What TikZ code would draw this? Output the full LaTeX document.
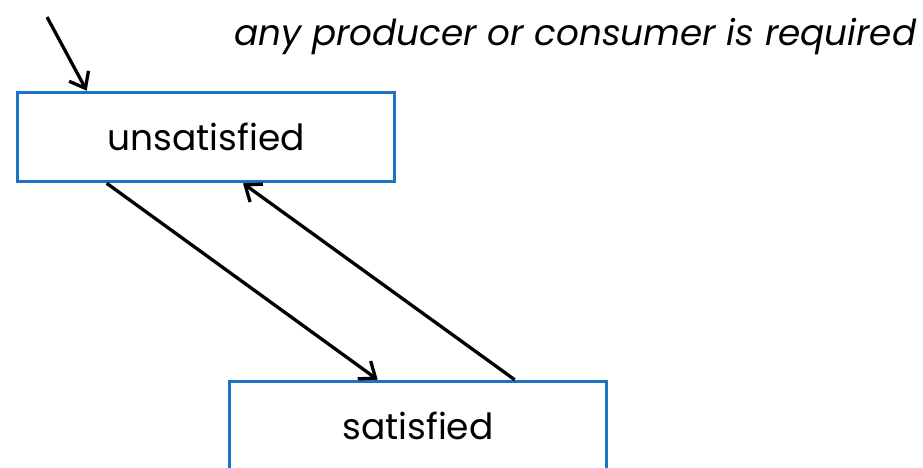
\documentclass[tikz,border=0pt]{standalone}
\usepackage{fontspec}
\setmainfont{Poppins}
\usetikzlibrary{arrows.meta}
\definecolor{stateblue}{RGB}{30,114,198}
\begin{document}
\begin{tikzpicture}[x=1pt,y=-1pt,
  state/.style={draw=stateblue,line width=3.6pt,minimum width=377pt,minimum height=89pt,
    inner sep=0pt,font=\fontsize{36}{42}\selectfont},
  trans/.style={line width=3.3pt,-{Straight Barb[length=14pt,width=22pt]}}]
\useasboundingbox (0,0) rectangle (923,467);
\node[state] (u) at (206,137) {unsatisfied};
\node[state] (s) at (418,426) {satisfied};
\node[font=\itshape\fontsize{35.8}{42}\selectfont,anchor=base west,inner sep=0pt] (note) at (234,45)
  {any producer or consumer is required};
\coordinate (init) at (47,17);
\draw[trans] (init) -- ([xshift=71pt]u.north west);
\draw[trans] ([xshift=91pt]u.south west) -- ([xshift=150pt]s.north west);
\draw[trans] ([xshift=287pt]s.north west) -- ([xshift=37pt]u.south);
\end{tikzpicture}
\end{document}
